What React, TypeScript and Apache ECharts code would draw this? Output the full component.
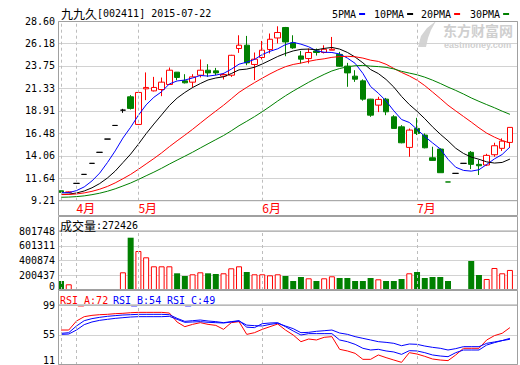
import React, { useEffect, useRef } from 'react';
import * as echarts from 'echarts';

// ---------- data ----------
const opens = [10.28, 10.12, 11.08, 12.05, 13.24, 14.43, 15.86, 17.33, 18.98, 20.42,
  17.44, 21.28, 21.06, 21.21, 21.75, 23.08, 22.14, 22.0, 22.75, 23.29,
  23.22, 22.65, 22.75, 25.63, 25.99, 23.91, 24.66, 25.52, 26.77, 27.9,
  26.24, 24.83, 24.55, 25.37, 25.2, 25.45, 25.0, 23.73, 22.65, 22.14,
  20.17, 19.52, 20.17, 18.26, 17.18, 14.96, 17.01, 16.29, 13.84, 14.78,
  11.23, 12.16, 13.24, 14.43, 13.13, 13.06, 14.17, 14.86, 15.5];
const closes = [10.12, 10.15, 11.08, 12.05, 13.24, 14.43, 15.86, 17.33, 18.98, 19.17,
  20.89, 21.43, 21.43, 22.0, 23.29, 22.51, 21.93, 22.57, 23.29, 23.0,
  23.0, 22.83, 24.9, 25.99, 24.08, 24.48, 25.45, 26.63, 27.36, 26.34,
  25.7, 24.48, 25.2, 25.2, 25.55, 25.55, 23.72, 23.0, 22.32, 20.17,
  18.44, 20.14, 18.8, 17.01, 15.46, 16.83, 16.47, 14.92, 13.56, 12.23,
  11.23, 12.16, 13.24, 13.13, 12.98, 14.1, 15.14, 15.64, 17.12];
const lows = [10.08, 10.08, 11.08, 12.05, 13.24, 14.43, 15.86, 17.33, 18.69, 19.05,
  17.4, 20.06, 21.0, 20.49, 21.7, 22.21, 21.86, 21.43, 22.51, 22.57,
  22.75, 22.29, 22.57, 25.16, 23.83, 22.22, 24.45, 25.1, 26.17, 24.8,
  25.6, 24.02, 24.02, 24.87, 25.1, 25.45, 23.65, 21.5, 22.03, 20.0,
  18.26, 18.77, 18.44, 17.01, 15.4, 13.95, 16.3, 14.86, 13.52, 12.23,
  11.23, 12.16, 13.24, 12.62, 11.98, 12.95, 13.95, 14.57, 14.96];
const highs = [10.3, 10.2, 11.08, 12.05, 13.24, 14.43, 15.86, 17.33, 19.12, 20.6,
  21.0, 23.05, 22.57, 22.5, 23.58, 23.1, 22.86, 22.86, 24.45, 23.94,
  23.54, 23.0, 24.95, 27.06, 26.99, 25.2, 26.45, 27.25, 28.03, 27.96,
  27.06, 25.37, 25.63, 25.63, 25.98, 26.88, 25.27, 24.08, 23.29, 22.3,
  20.2, 20.42, 20.3, 18.44, 17.36, 17.0, 18.15, 16.47, 15.03, 14.86,
  11.23, 12.16, 13.24, 14.57, 13.6, 14.27, 15.46, 15.93, 17.12];

const volumes = [122300, 77500, 12000, 12000, 12000, 12000, 12000, 12000, 240500, 710700,
  530000, 444400, 322000, 322000, 322000, 227000, 190200, 213300, 240500, 227000,
  217400, 227000, 294900, 322000, 244600, 213300, 213300, 199800, 213300, 190200,
  122300, 176700, 159000, 122300, 159000, 186200, 163100, 163100, 122300, 122300,
  163100, 145400, 122300, 122300, 149500, 227000, 244600, 163100, 176700, 176700,
  122300, 6000, 6000, 394100, 203800, 149500, 299000, 227000, 272426];

const ma5 = [10.07, 10.08, 10.3, 10.7, 11.34, 12.19, 13.33, 14.58, 15.97, 17.14,
  18.43, 19.55, 20.37, 20.97, 21.81, 22.13, 22.23, 22.45, 22.72, 22.66,
  22.76, 22.94, 23.4, 23.94, 24.16, 24.45, 24.98, 25.33, 25.6, 26.05,
  26.3, 26.1, 25.82, 25.38, 25.23, 25.2, 25.04, 24.6, 24.03, 22.95,
  21.53, 20.81, 19.97, 18.91, 17.97, 17.65, 16.91, 16.14, 15.45, 14.8,
  13.68, 12.82, 12.48, 12.4, 12.55, 13.12, 13.72, 14.2, 15.0];
const ma10 = [9.89, 9.92, 10.04, 10.26, 10.6, 11.06, 11.66, 12.4, 13.32, 14.24,
  15.31, 16.44, 17.48, 18.47, 19.48, 20.28, 20.89, 21.42, 21.85, 22.24,
  22.45, 22.58, 22.93, 23.33, 23.41, 23.61, 23.96, 24.36, 24.77, 25.1,
  25.37, 25.54, 25.57, 25.49, 25.64, 25.75, 25.57, 25.21, 24.71, 24.09,
  23.36, 22.93, 22.29, 21.47, 20.46, 19.59, 18.86, 18.06, 17.18, 16.39,
  15.67, 14.87, 14.31, 13.92, 13.68, 13.4, 13.27, 13.34, 13.7];
const ma20 = [9.87, 9.88, 9.94, 10.05, 10.22, 10.45, 10.75, 11.13, 11.58, 12.05,
  12.6, 13.18, 13.76, 14.37, 15.04, 15.67, 16.28, 16.91, 17.58, 18.24,
  18.88, 19.51, 20.2, 20.9, 21.44, 21.95, 22.43, 22.89, 23.31, 23.67,
  23.91, 24.06, 24.25, 24.41, 24.52, 24.68, 24.76, 24.79, 24.74, 24.6,
  24.37, 24.24, 23.93, 23.48, 23.05, 22.67, 22.22, 21.63, 20.94, 20.24,
  19.51, 18.9, 18.3, 17.7, 17.07, 16.5, 16.07, 15.7, 15.44];
const ma30 = [9.58, 9.6, 9.65, 9.73, 9.86, 10.02, 10.23, 10.49, 10.8, 11.12,
  11.5, 11.9, 12.29, 12.71, 13.16, 13.59, 14.01, 14.44, 14.9, 15.35,
  15.8, 16.24, 16.75, 17.3, 17.78, 18.28, 18.81, 19.38, 19.97, 20.53,
  21.04, 21.52, 21.99, 22.43, 22.84, 23.21, 23.47, 23.66, 23.77, 23.81,
  23.73, 23.68, 23.6, 23.43, 23.17, 22.98, 22.8, 22.54, 22.22, 21.86,
  21.47, 21.11, 20.72, 20.3, 19.93, 19.58, 19.24, 18.87, 18.53];

const rsiA = [62.3, 62.3, 75.5, 81.9, 83.8, 84.8, 85.3, 86.3, 86.8, 87.7,
  88.2, 88.2, 88.2, 88.2, 87.2, 74.0, 67.2, 70.6, 73.1, 70.6,
  69.1, 63.3, 73.1, 74.6, 55.9, 58.4, 63.3, 67.2, 71.1, 62.3,
  55.0, 45.2, 49.1, 47.7, 51.6, 52.6, 34.0, 31.6, 28.1, 19.3,
  19.3, 25.7, 21.8, 18.3, 14.9, 29.1, 27.1, 23.7, 19.8, 18.3,
  17.4, 25.7, 35.5, 35.5, 35.5, 47.7, 54.1, 57.5, 65.8];
const rsiB = [57.4, 58.4, 68.2, 76.0, 79.0, 80.9, 82.4, 83.4, 84.3, 84.8,
  85.3, 85.3, 85.3, 85.3, 84.8, 79.4, 75.0, 76.0, 77.0, 75.5,
  74.6, 73.1, 74.6, 76.0, 66.5, 65.8, 71.6, 72.6, 73.1, 67.2,
  60.9, 55.0, 57.0, 57.0, 57.0, 57.0, 47.7, 45.2, 41.3, 35.5,
  33.0, 34.0, 31.6, 30.1, 26.6, 32.0, 31.6, 29.1, 25.7, 24.2,
  23.2, 29.1, 33.0, 33.0, 33.0, 40.3, 43.8, 46.8, 50.1];
const rsiC = [55.9, 56.4, 62.3, 70.2, 74.1, 76.5, 78.0, 79.4, 80.4, 81.4,
  81.9, 81.9, 81.9, 81.9, 82.4, 78.0, 73.6, 74.1, 74.6, 73.6,
  73.1, 72.6, 74.1, 75.5, 69.5, 68.7, 68.2, 70.6, 72.1, 68.2,
  64.3, 58.4, 58.9, 60.4, 61.3, 62.3, 57.9, 56.0, 52.6, 50.1,
  47.7, 45.2, 44.2, 42.8, 39.3, 41.8, 41.3, 38.8, 36.9, 35.5,
  33.0, 35.0, 37.9, 37.9, 37.9, 42.8, 44.8, 46.8, 48.7];

const priceTickLabels = ['9.21', '11.64', '14.06', '16.48', '18.91', '21.33', '23.75', '26.18', '28.60'];
const PRICE_MIN = 9.21;
const PRICE_STEP = 2.42375;
const VOL_MAX = 801748;
const VOL_STEP = 200437;
const rsiTickLabels = ['11', '55', '99'];
const RSI_MIN = 11;
const RSI_STEP = 44;

const monthIndex = [2, 10, 26, 46];
const monthNames = ['4月', '5月', '6月', '7月'];
const dividerIndex = [0, 2, 10, 26, 46];

const titleName = '九九久';
const titleCode = '[002411] 2015-07-22';
const volTitle = '成交量';
const lastVolume = '272426';
const rsiLegend = [
  { name: 'RSI_A', value: '72' },
  { name: 'RSI_B', value: '54' },
  { name: 'RSI_C', value: '49' },
];
const maLegend = ['5PMA', '10PMA', '20PMA', '30PMA'];

// ---------- styles ----------
const RED = '#ff0000';
const GREEN = '#008000';
const BLUE = '#0000ff';
const BLACK = '#000000';
const GRID_COLOR = '#d2d2d2';
const BORDER_COLOR = '#a0a0a0';
const DASH_COLOR = '#bdbdbd';
const MONO = "'DejaVu Sans Mono', 'Liberation Mono', monospace";
const CJK = "'Noto Sans CJK SC', sans-serif";

const FRAME_L = 58;
const FRAME_W = 460;
const STEP_X = 7.74;
const DATA_L = 61 - STEP_X / 2;
const DATA_W = STEP_X * 59;

function buildOption() {
  const cats = closes.map((_, i) => String(i));
  const tp = (p: number) => (p - PRICE_MIN) / PRICE_STEP;
  const tr = (v: number) => (v - RSI_MIN) / RSI_STEP;

  const isUp = (i: number) =>
    closes[i] > opens[i] || (closes[i] === opens[i] && (i === 0 || closes[i] >= closes[i - 1]));

  const candleData = closes.map((c, i) => {
    const value = [tp(opens[i]), tp(c), tp(lows[i]), tp(highs[i])];
    if (opens[i] === c) {
      const col = isUp(i) ? BLACK : GREEN;
      return { value, itemStyle: { color: col, color0: col, borderColor: col, borderColor0: col } };
    }
    return value;
  });

  const volData = volumes.map((v, i) =>
    isUp(i)
      ? { value: v, itemStyle: { color: '#ffffff', borderColor: RED, borderWidth: 1 } }
      : { value: v, itemStyle: { color: GREEN, borderColor: GREEN, borderWidth: 0 } }
  );

  const dividers = {
    silent: true,
    symbol: ['none', 'none'],
    label: { show: false },
    lineStyle: { color: DASH_COLOR, type: [3, 3], width: 1 },
    data: dividerIndex.map((i) => ({ xAxis: i })),
    animation: false,
  };

  const monthMap: Record<number, string> = {};
  monthIndex.forEach((idx, k) => (monthMap[idx] = monthNames[k]));

  const panels = [
    { top: 21, height: 179.7 },
    { top: 231, height: 59 },
    { top: 305, height: 60 },
  ];
  const grid: any[] = [];
  panels.forEach((p) => {
    grid.push({ left: FRAME_L, top: p.top, width: FRAME_W, height: p.height, containLabel: false });
    grid.push({ left: DATA_L, top: p.top, width: DATA_W, height: p.height, containLabel: false });
  });

  const xAxis: any[] = [];
  panels.forEach((_, k) => {
    xAxis.push({ type: 'value', gridIndex: 2 * k, min: 0, max: 1, show: false });
    xAxis.push({
      type: 'category',
      gridIndex: 2 * k + 1,
      data: cats,
      boundaryGap: true,
      axisLine: { show: false },
      axisTick: { show: false },
      splitLine: { show: false },
      axisLabel:
        k === 0
          ? {
              show: true,
              interval: 0,
              formatter: (_v: string, idx: number) => monthMap[idx] || '',
              color: RED,
              fontSize: 12,
              fontFamily: CJK,
              margin: 1,
              align: 'left',
            }
          : { show: false },
    });
  });

  const labelBase = { color: BLACK, fontSize: 10, fontFamily: MONO, margin: 3 };
  const yAxis: any[] = [
    {
      type: 'value', gridIndex: 0, min: 0, max: 8, interval: 1,
      axisLine: { show: false }, axisTick: { show: false },
      splitLine: { show: true, lineStyle: { color: GRID_COLOR, width: 1 } },
      axisLabel: { ...labelBase, formatter: (v: number) => priceTickLabels[Math.round(v)] },
    },
    { type: 'value', gridIndex: 1, min: 0, max: 8, show: false },
    {
      type: 'value', gridIndex: 2, min: 0, max: VOL_MAX, interval: VOL_STEP,
      axisLine: { show: false }, axisTick: { show: false },
      splitLine: { show: true, lineStyle: { color: GRID_COLOR, width: 1 } },
      axisLabel: {
        ...labelBase,
        formatter: (v: number) => (v === 0 ? '{s|0}' : String(v)),
        rich: { s: { fontSize: 10, fontFamily: MONO, padding: [0, 0, 8, 0] } },
      },
    },
    { type: 'value', gridIndex: 3, min: 0, max: VOL_MAX, show: false },
    {
      type: 'value', gridIndex: 4, min: 0, max: 2, interval: 1,
      axisLine: { show: false }, axisTick: { show: false },
      splitLine: { show: true, lineStyle: { color: GRID_COLOR, width: 1 } },
      axisLabel: {
        ...labelBase,
        formatter: (v: number) => {
          const t = rsiTickLabels[Math.round(v)];
          return Math.round(v) === 0 ? '{s|' + t + '}' : t;
        },
        rich: { s: { fontSize: 10, fontFamily: MONO, padding: [0, 0, 9, 0] } },
      },
    },
    { type: 'value', gridIndex: 5, min: 0, max: 2, show: false },
  ];

  const maLine = (name: string, data: number[], color: string) => ({
    name,
    type: 'line',
    xAxisIndex: 1,
    yAxisIndex: 1,
    data: data.map(tp),
    symbol: 'none',
    showSymbol: false,
    lineStyle: { color, width: 1 },
    itemStyle: { color },
    z: 4,
  });
  const rsiLine = (name: string, data: number[], color: string, withDiv: boolean) => ({
    name,
    type: 'line',
    xAxisIndex: 5,
    yAxisIndex: 5,
    data: data.map(tr),
    symbol: 'none',
    showSymbol: false,
    lineStyle: { color, width: 1 },
    itemStyle: { color },
    z: 4,
    ...(withDiv ? { markLine: dividers } : {}),
  });

  const series: any[] = [
    {
      type: 'candlestick',
      xAxisIndex: 1,
      yAxisIndex: 1,
      data: candleData,
      barWidth: 6,
      itemStyle: {
        color: '#ffffff',
        color0: GREEN,
        borderColor: RED,
        borderColor0: GREEN,
        borderWidth: 1,
      },
      markLine: dividers,
      z: 3,
    },
    maLine('5PMA', ma5, BLUE),
    maLine('10PMA', ma10, BLACK),
    maLine('20PMA', ma20, RED),
    maLine('30PMA', ma30, GREEN),
    {
      type: 'bar',
      xAxisIndex: 3,
      yAxisIndex: 3,
      data: volData,
      barWidth: 6,
      markLine: dividers,
      z: 3,
    },
    rsiLine('RSI_A', rsiA, RED, true),
    rsiLine('RSI_B', rsiB, BLUE, false),
    rsiLine('RSI_C', rsiC, BLUE, false),
  ];

  // ---------- decorations: frames, headers, legend, watermark ----------
  const R = FRAME_L + FRAME_W;
  const frameRect = (y1: number, y2: number) => ({
    type: 'rect',
    shape: { x: FRAME_L + 0.5, y: y1 + 0.5, width: R - FRAME_L - 1, height: y2 - y1 - 1 },
    style: { fill: 'none', stroke: BORDER_COLOR, lineWidth: 1 },
    z: 20,
    silent: true,
  });
  const hLine = (y: number) => ({
    type: 'line',
    shape: { x1: FRAME_L, y1: y + 0.5, x2: R, y2: y + 0.5 },
    style: { stroke: BORDER_COLOR, lineWidth: 1 },
    z: 20,
    silent: true,
  });

  const legendColors = [BLUE, BLACK, RED, GREEN];
  const legendX = [332, 374, 421, 470];
  const legendEls: any[] = [];
  maLegend.forEach((t, k) => {
    legendEls.push({
      type: 'text',
      x: legendX[k],
      y: 14,
      style: { text: t, fill: BLACK, font: `10px ${MONO}`, verticalAlign: 'middle', align: 'left' },
      z: 20,
    });
    legendEls.push({
      type: 'rect',
      shape: { x: legendX[k] + t.length * 6.02 + 3, y: 13, width: 6, height: 2 },
      style: { fill: legendColors[k] },
      z: 20,
    });
  });

  const rsiX = [60, 113, 167];
  const rsiColors = [RED, BLUE, BLUE];
  const rsiEls = rsiLegend.map((r, k) => ({
    type: 'text',
    x: rsiX[k],
    y: 300,
    style: { text: `${r.name}:${r.value}`, fill: rsiColors[k], font: `10px ${MONO}`, verticalAlign: 'middle' },
    z: 20,
  }));

  const graphic: any[] = [
    // watermark
    {
      type: 'polygon',
      shape: { points: [[418, 47], [421, 36], [427, 28], [436, 21], [431, 30], [428, 38], [426, 47]] },
      style: { fill: '#d4d4d4' },
      z: 0,
      silent: true,
    },
    {
      type: 'text', x: 443, y: 30,
      style: { text: '东方财富网', fill: '#cfcfcf', font: `bold 14px ${CJK}`, verticalAlign: 'middle' },
      z: 0, silent: true,
    },
    {
      type: 'text', x: 444, y: 45,
      style: { text: 'eastmoney.com', fill: '#cfcfcf', font: "bold 9px 'Liberation Sans', sans-serif", verticalAlign: 'middle' },
      z: 0, silent: true,
    },
    frameRect(21, 216),
    hLine(200.2),
    frameRect(216, 290),
    hLine(230.5),
    frameRect(290, 365),
    hLine(304.5),
    {
      type: 'text', x: 61, y: 13,
      style: {
        text: `{c|${titleName}}{a|${titleCode}}`,
        verticalAlign: 'middle',
        rich: {
          c: { fontSize: 12, fontFamily: CJK, fill: BLACK },
          a: { fontSize: 10, fontFamily: MONO, fill: BLACK },
        },
      },
      z: 20,
    },
    {
      type: 'text', x: 60, y: 225,
      style: {
        text: `{c|${volTitle}}{a|:${lastVolume}}`,
        verticalAlign: 'middle',
        rich: {
          c: { fontSize: 12, fontFamily: CJK, fill: BLACK },
          a: { fontSize: 10, fontFamily: MONO, fill: BLACK },
        },
      },
      z: 20,
    },
    ...legendEls,
    ...rsiEls,
  ];

  return {
    animation: false,
    backgroundColor: '#ffffff',
    grid,
    xAxis,
    yAxis,
    series,
    graphic,
  };
}

export default function App() {
  const ref = useRef<HTMLDivElement>(null);
  useEffect(() => {
    if (!ref.current) return;
    const chart = echarts.init(ref.current, null, { renderer: 'svg' });
    chart.setOption(buildOption() as any);
    return () => chart.dispose();
  }, []);
  return (
    <div
      ref={ref}
      style={{ position: 'fixed', left: 0, top: 0, width: 520, height: 365, background: '#fff' }}
    />
  );
}
